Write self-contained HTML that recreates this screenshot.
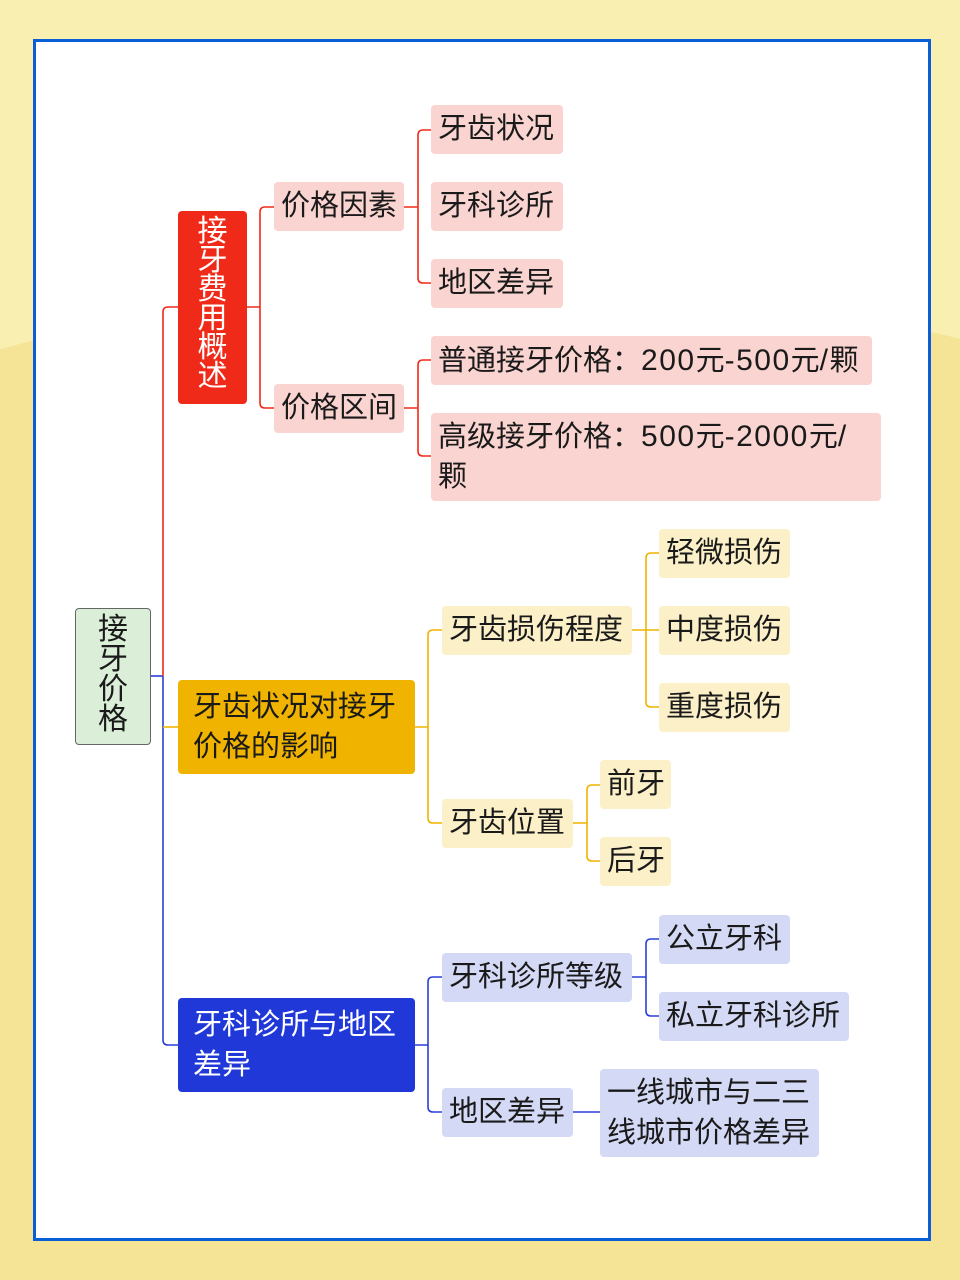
<!DOCTYPE html>
<html><head><meta charset="utf-8"><style>
html,body{margin:0;padding:0;width:960px;height:1280px;overflow:hidden}
body{position:relative;background:#f8efb0;font-family:"Liberation Sans","Noto Sans CJK SC",sans-serif}
.bg2{position:absolute;left:-200px;top:290px;width:1400px;height:990px;border-radius:50% 50% 0 0/20% 20% 0 0;background:#f5e396}
.frame{position:absolute;left:33px;top:39px;width:892px;height:1196px;background:#fff;border:3px solid #0b5fd6}
.n{position:absolute;box-sizing:border-box;padding:0 7px;font-size:29px;color:#1a1a1a;border-radius:4px;white-space:nowrap}
.r{background:#f9d4d0}.y{background:#fbf0c8}.b{background:#d4d9f5}
.l{font-size:30px;letter-spacing:1.5px}
svg{position:absolute;left:0;top:0}
</style></head><body>
<div class="bg2"></div>
<div class="frame"></div>
<svg width="960" height="1280" fill="none" stroke-width="1.6">
<path d="M151 676H163" stroke="#2a3fd8"/>
<path d="M178 307H168Q163 307 163 312V676" stroke="#f02a18"/>
<path d="M163 676V1040Q163 1045 168 1045H178" stroke="#2a3fd8"/>
<path d="M163 727H178" stroke="#f0b400"/>
<path d="M247 307H260M274 207H265Q260 207 260 212V403Q260 408 265 408H274" stroke="#f02a18"/>
<path d="M404 207H418M431 130H423Q418 130 418 135V278Q418 283 423 283H431M404 408H418M431 360H423Q418 360 418 365V451Q418 456 423 456H431" stroke="#f02a18"/>
<path d="M415 727H428M442 630H433Q428 630 428 635V818Q428 823 433 823H442" stroke="#f0b400"/>
<path d="M632 630H659M659 553H651Q646 553 646 558V702Q646 707 651 707H659M573 823H587M600 785H592Q587 785 587 790V856Q587 861 592 861H600" stroke="#f0b400"/>
<path d="M415 1045H428M442 977H433Q428 977 428 982V1107Q428 1112 433 1112H442" stroke="#2a3fd8"/>
<path d="M632 977H646M659 939H651Q646 939 646 944V1011Q646 1016 651 1016H659M573 1112H600" stroke="#2a3fd8"/>
</svg>
<div class="n" style="left:75px;top:608px;width:76px;height:137px;background:#dbefd8;border:1px solid #666;font-size:30px;line-height:30px;text-align:center;white-space:normal;padding:6px 20px">接牙价格</div>
<div class="n" style="left:178px;top:211px;width:69px;height:193px;background:#f02a18;color:#fff;line-height:29px;text-align:center;white-space:normal;padding:6px 18px;font-size:30px">接牙费用概述</div>
<div class="n" style="left:178px;top:680px;width:237px;height:94px;background:#f0b400;line-height:40px;padding:7px 15px">牙齿状况对接牙<br>价格的影响</div>
<div class="n" style="left:178px;top:998px;width:237px;height:94px;background:#2038d8;color:#fff;line-height:40px;padding:7px 15px">牙科诊所与地区<br>差异</div>
<div class="n r" style="left:274px;top:182px;width:130px;height:49px;line-height:49px">价格因素</div>
<div class="n r" style="left:274px;top:384px;width:130px;height:49px;line-height:49px">价格区间</div>
<div class="n r" style="left:431px;top:105px;width:132px;height:49px;line-height:49px">牙齿状况</div>
<div class="n r" style="left:431px;top:182px;width:132px;height:49px;line-height:49px">牙科诊所</div>
<div class="n r" style="left:431px;top:259px;width:132px;height:49px;line-height:49px">地区差异</div>
<div class="n r" style="left:431px;top:336px;width:441px;height:49px;line-height:49px">普通接牙价格：<span class="l">200</span>元<span class="l">-500</span>元<span class="l">/</span>颗</div>
<div class="n r" style="left:431px;top:413px;width:450px;height:88px;line-height:40px;padding-top:4px">高级接牙价格：<span class="l">500</span>元<span class="l">-2000</span>元<span class="l">/</span><br>颗</div>
<div class="n y" style="left:442px;top:606px;width:190px;height:49px;line-height:49px">牙齿损伤程度</div>
<div class="n y" style="left:442px;top:799px;width:131px;height:49px;line-height:49px">牙齿位置</div>
<div class="n y" style="left:659px;top:529px;width:131px;height:49px;line-height:49px">轻微损伤</div>
<div class="n y" style="left:659px;top:606px;width:131px;height:49px;line-height:49px">中度损伤</div>
<div class="n y" style="left:659px;top:683px;width:131px;height:49px;line-height:49px">重度损伤</div>
<div class="n y" style="left:600px;top:760px;width:71px;height:49px;line-height:49px">前牙</div>
<div class="n y" style="left:600px;top:837px;width:71px;height:49px;line-height:49px">后牙</div>
<div class="n b" style="left:442px;top:953px;width:190px;height:49px;line-height:49px">牙科诊所等级</div>
<div class="n b" style="left:442px;top:1088px;width:131px;height:49px;line-height:49px">地区差异</div>
<div class="n b" style="left:659px;top:915px;width:131px;height:49px;line-height:49px">公立牙科</div>
<div class="n b" style="left:659px;top:992px;width:190px;height:49px;line-height:49px">私立牙科诊所</div>
<div class="n b" style="left:600px;top:1069px;width:219px;height:88px;line-height:40px;padding-top:4px">一线城市与二三<br>线城市价格差异</div>
</body></html>
